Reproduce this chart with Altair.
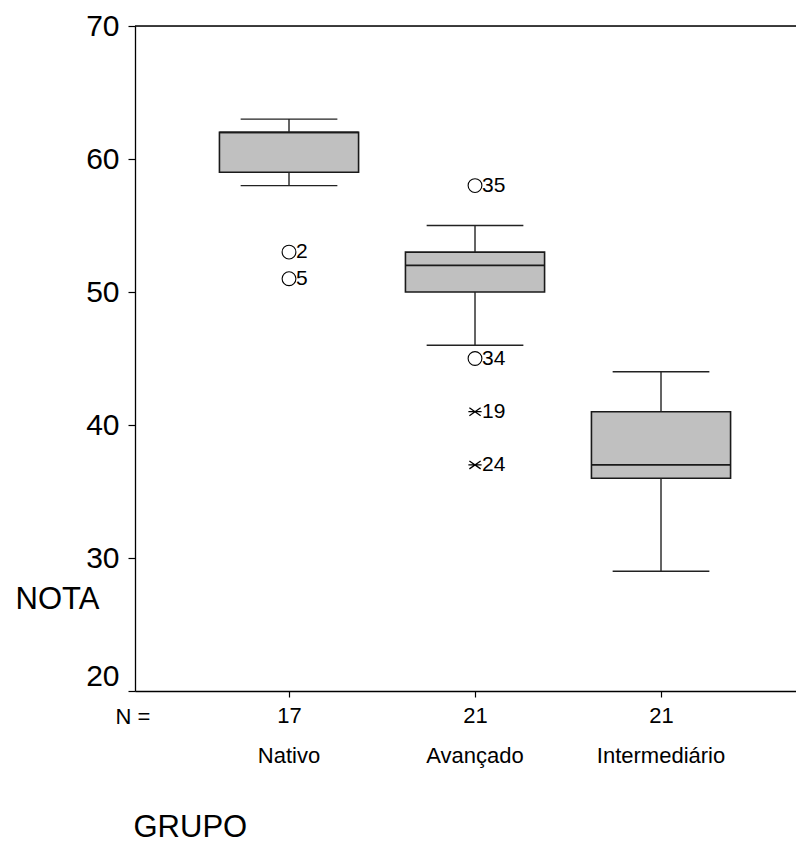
import altair as alt
import pandas as pd

# ---- data ----
groups = ["Nativo", "Avançado", "Intermediário"]
group_pos = [1, 2, 3]
n_values = [17, 21, 21]
whisker_low = [58, 46, 29]
q1 = [59, 50, 36]
median = [62, 52, 37]
q3 = [62, 53, 41]
whisker_high = [63, 55, 44]

out_group = ["Nativo", "Nativo", "Avançado", "Avançado", "Avançado", "Avançado"]
out_value = [53, 51, 58, 45, 41, 37]
out_case = ["2", "5", "35", "34", "19", "24"]
out_kind = ["outlier", "outlier", "outlier", "outlier", "extreme", "extreme"]

y_ticks = [20, 30, 40, 50, 60, 70]

# ---- tables ----
pos_map = dict(zip(groups, group_pos))
box_df = pd.DataFrame({
    "grupo": groups, "pos": group_pos, "n": n_values,
    "low": whisker_low, "q1": q1, "med": median, "q3": q3, "high": whisker_high,
})
out_df = pd.DataFrame({
    "grupo": out_group, "pos": [pos_map[g] for g in out_group],
    "nota": out_value, "caso": out_case, "tipo": out_kind,
})

W, H = 661, 665
X_DOMAIN = [0.172, 0.172 + W / 186.0]
FONT = "Liberation Sans"

xs = alt.Scale(domain=X_DOMAIN, nice=False, zero=False)
ys = alt.Scale(domain=[20, 70], nice=False, zero=False)

n_expr = " : ".join(
    [f"datum.value == {p} ? '{n}'" for p, n in zip(group_pos, n_values)]
) + " : ''"

x_axis = alt.Axis(
    values=group_pos, labelExpr=n_expr, grid=False,
    domainColor="black", domainWidth=1.3, tickColor="black", tickWidth=1.2,
    tickSize=6, labelFont=FONT, labelFontSize=22, labelColor="black",
    labelPadding=8, labelAngle=0,
    title="GRUPO", titleFont=FONT, titleFontSize=31, titleFontWeight="normal",
    titleColor="black", titleAnchor="start", titleAlign="left",
    titleBaseline="alphabetic", titleX=-2, titleY=145,
)
y_axis = alt.Axis(
    values=y_ticks, grid=False,
    domainColor="black", domainWidth=1.3, tickColor="black", tickWidth=1.2,
    tickSize=7, labelFont=FONT, labelFontSize=30, labelColor="black",
    labelPadding=9,
    labelBaseline=alt.condition("datum.value == 20", alt.value("bottom"), alt.value("middle")),
    title="NOTA", titleFont=FONT, titleFontSize=31, titleFontWeight="normal",
    titleColor="black", titleAngle=0, titleAlign="left", titleBaseline="middle",
    titleX=-120, titleY=573,
)

base = alt.Chart(box_df)

half_box = 0.374
half_cap = 0.26

boxes = base.transform_calculate(
    x1=f"datum.pos - {half_box}", x2=f"datum.pos + {half_box}"
).mark_rect(fill="#c0c0c0", stroke="#1a1a1a", strokeWidth=1.6).encode(
    x=alt.X("x1:Q", scale=xs, axis=x_axis),
    x2="x2:Q",
    y=alt.Y("q1:Q", scale=ys, axis=y_axis),
    y2="q3:Q",
)

medians = base.transform_calculate(
    x1=f"datum.pos - {half_box}", x2=f"datum.pos + {half_box}"
).mark_rule(color="#1a1a1a", strokeWidth=1.6).encode(
    x=alt.X("x1:Q", scale=xs), x2="x2:Q", y=alt.Y("med:Q", scale=ys)
)

whisk_lo = base.mark_rule(color="#222222", strokeWidth=1.4).encode(
    x=alt.X("pos:Q", scale=xs), y=alt.Y("low:Q", scale=ys), y2="q1:Q"
)
whisk_hi = base.mark_rule(color="#222222", strokeWidth=1.4).encode(
    x=alt.X("pos:Q", scale=xs), y=alt.Y("q3:Q", scale=ys), y2="high:Q"
)
caps_lo = base.transform_calculate(
    x1=f"datum.pos - {half_cap}", x2=f"datum.pos + {half_cap}"
).mark_rule(color="#222222", strokeWidth=1.4).encode(
    x=alt.X("x1:Q", scale=xs), x2="x2:Q", y=alt.Y("low:Q", scale=ys)
)
caps_hi = base.transform_calculate(
    x1=f"datum.pos - {half_cap}", x2=f"datum.pos + {half_cap}"
).mark_rule(color="#222222", strokeWidth=1.4).encode(
    x=alt.X("x1:Q", scale=xs), x2="x2:Q", y=alt.Y("high:Q", scale=ys)
)

obase = alt.Chart(out_df)
circles = obase.transform_filter("datum.tipo == 'outlier'").mark_point(
    shape="circle", size=190, filled=False, stroke="black", strokeWidth=1.1, opacity=1
).encode(x=alt.X("pos:Q", scale=xs), y=alt.Y("nota:Q", scale=ys))

star_path = "M-1,0L1,0M-0.85,-0.6L0.85,0.6M-0.85,0.6L0.85,-0.6"
stars = obase.transform_filter("datum.tipo == 'extreme'").mark_point(
    shape=star_path, size=175, filled=False, stroke="black", strokeWidth=1.3, opacity=1
).encode(x=alt.X("pos:Q", scale=xs), y=alt.Y("nota:Q", scale=ys))

case_labels = obase.mark_text(
    align="left", baseline="middle", dx=7, font=FONT, fontSize=21, color="black"
).encode(x=alt.X("pos:Q", scale=xs), y=alt.Y("nota:Q", scale=ys), text="caso:N")

group_labels = base.mark_text(
    align="center", baseline="middle", font=FONT, fontSize=22, color="black"
).encode(x=alt.X("pos:Q", scale=xs), y=alt.value(H + 65), text="grupo:N")

n_label = alt.Chart(pd.DataFrame({"t": ["N ="]})).mark_text(
    align="center", baseline="middle", font=FONT, fontSize=22, color="black"
).encode(x=alt.value(-2), y=alt.value(H + 26), text="t:N")

top_rule = alt.Chart(pd.DataFrame({"v": [70]})).mark_rule(
    color="black", strokeWidth=1.3
).encode(y=alt.Y("v:Q", scale=ys), x=alt.value(0), x2=alt.value(W))

chart = alt.layer(
    boxes, medians, whisk_lo, whisk_hi, caps_lo, caps_hi,
    circles, stars, case_labels, group_labels, n_label, top_rule,
).properties(
    width=W, height=H,
    autosize=alt.AutoSizeParams(type="none"),
    padding={"left": 127, "top": 18, "right": 0, "bottom": 152},
).configure_view(stroke=None).configure(background="white")

chart.save("out.html", embed_options={"renderer": "svg", "actions": False})
